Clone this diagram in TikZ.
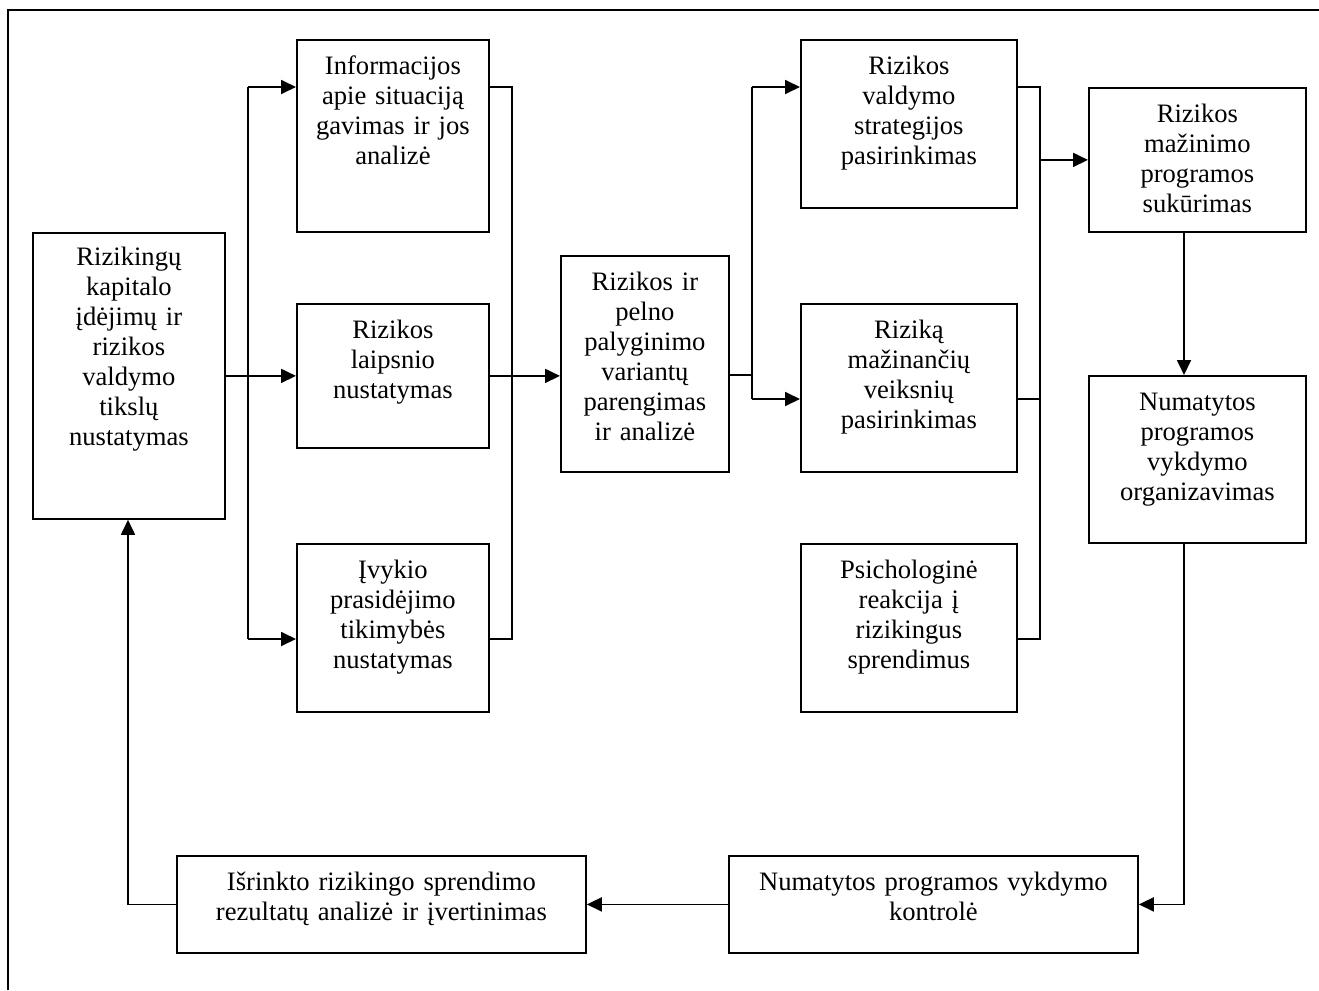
\documentclass[tikz,border=0pt]{standalone}
\usepackage{fontspec}
\setmainfont{Liberation Serif}
\usetikzlibrary{arrows.meta}

\tikzset{
  % box with top-aligned text: #1 = width, #2 = depth below first baseline
  blk/.style 2 args={draw, line width=1.8pt, inner sep=0pt, anchor=north west,
    text width=#1, text height=35pt, text depth=#2, align=center,
    font=\fontsize{26.6}{30}\selectfont},
  link/.style={line width=1.8pt},
  arr/.style={link, -{Triangle[length=15pt,width=14pt]}},
  frame/.style={line width=2pt}
}

\begin{document}
\begin{tikzpicture}[x=1pt, y=-1pt]
\useasboundingbox (0,0) rectangle (1319,990);

% outer frame (only its top and left sides fall on the page)
\draw[frame] (8,990) -- (8,10) -- (1319,10);

% boxes
\node[blk={192pt}{253pt}, text height=33pt] (A) at (32,232)
  {Rizikingų\\kapitalo\\įdėjimų ir\\rizikos\\valdymo\\tikslų\\nustatymas};
\node[blk={192pt}{157pt}] (B1) at (296,39)
  {Informacijos\\apie situaciją\\gavimas ir jos\\analizė};
\node[blk={192pt}{109pt}] (B2) at (296,303)
  {Rizikos\\laipsnio\\nustatymas};
\node[blk={192pt}{133pt}] (B3) at (296,543)
  {Įvykio\\prasidėjimo\\tikimybės\\nustatymas};
\node[blk={168pt}{181pt}] (C) at (560,255)
  {Rizikos ir\\pelno\\palyginimo\\variantų\\parengimas\\ir analizė};
\node[blk={216pt}{133pt}] (D1) at (800,39)
  {Rizikos\\valdymo\\strategijos\\pasirinkimas};
\node[blk={216pt}{133pt}] (D2) at (800,303)
  {Riziką\\mažinančių\\veiksnių\\pasirinkimas};
\node[blk={216pt}{133pt}] (D3) at (800,543)
  {Psichologinė\\reakcija į\\rizikingus\\sprendimus};
\node[blk={217pt}{109pt}] (E) at (1088,87)
  {Rizikos\\mažinimo\\programos\\sukūrimas};
\node[blk={217pt}{132pt}] (F) at (1088,375)
  {Numatytos\\programos\\vykdymo\\organizavimas};
\node[blk={409pt}{62pt}] (G) at (728,855)
  {Numatytos programos vykdymo\\kontrolė};
\node[blk={409pt}{62pt}] (H) at (176,855)
  {Išrinkto rizikingo sprendimo\\rezultatų analizė ir įvertinimas};

% bus points
\coordinate (l1) at (248,87);
\coordinate (l3) at (248,639);
\coordinate (r1) at (512,87);
\coordinate (r3) at (512,639);
\coordinate (cmid) at (752,375);
\coordinate (c1) at (752,87);
\coordinate (c2) at (752,399);
\coordinate (s1) at (1040,87);
\coordinate (s2) at (1040,399);
\coordinate (s3) at (1040,639);
\coordinate (ex) at (1184,0);
\coordinate (hx) at (128,0);

% first column: goals to the three analyses
\draw[arr] (A.east) -- (B2.west);
\draw[link] (l1) -- (l3);
\draw[arr] (l1) -- (B1.west |- l1);
\draw[arr] (l3) -- (B3.west |- l3);

% analyses to comparison of variants
\draw[link] (B1.east |- r1) -- (r1) -- (r3) -- (B3.east |- r3);
\draw[arr] (B2.east) -- (C.west |- B2.east);

% comparison to strategy choices
\draw[link] (C.east |- cmid) -- (cmid);
\draw[link] (c1) -- (c2);
\draw[arr] (c1) -- (D1.west |- c1);
\draw[arr] (c2) -- (D2.west |- c2);

% choices to programme design
\draw[link] (D1.east |- s1) -- (s1) -- (s3) -- (D3.east |- s3);
\draw[link] (D2.east |- s2) -- (s2);
\draw[arr] (s1 |- E.west) -- (E.west);

% programme, control, evaluation and feedback loop
\draw[arr] (E.south -| ex) -- (F.north -| ex);
\draw[arr] (F.south -| ex) |- (G.east);
\draw[arr] (G.west) -- (H.east);
\draw[arr] (H.west) -| (A.south -| hx);
\end{tikzpicture}
\end{document}
